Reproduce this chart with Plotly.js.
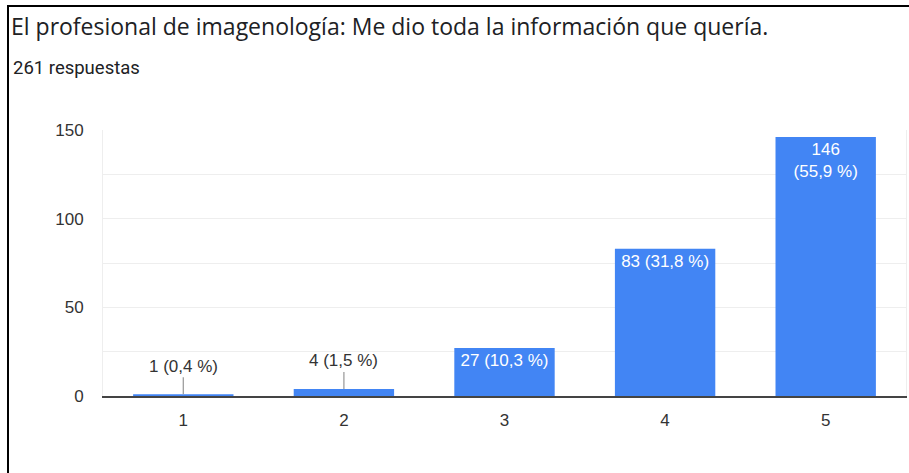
<!DOCTYPE html>
<html>
<head>
<meta charset="utf-8">
<script src="https://cdn.plot.ly/plotly-3.0.1.min.js"></script>
<style>
  html, body { margin: 0; padding: 0; background: #fff; }
  #wrap { position: relative; width: 909px; height: 473px; overflow: hidden; }
  #chart { position: absolute; left: 0; top: 0; width: 909px; height: 473px; }
  #frame { position: absolute; left: 7px; top: 5px; width: 910px; height: 480px;
           border-left: 2px solid #000; border-top: 2px solid #000; pointer-events: none; }
</style>
</head>
<body>
<div id="wrap">
  <div id="chart"></div>
  <div id="frame"></div>
</div>
<script>
const categories = ['1', '2', '3', '4', '5'];
const counts = [1, 4, 27, 83, 146];
const labels = ['1 (0,4 %)', '4 (1,5 %)', '27 (10,3 %)', '83 (31,8 %)', '146<br>(55,9 %)'];
const outsideLabel = [true, true, false, false, false];
const yTicks = [0, 50, 100, 150];
const titleText = 'El profesional de imagenología: Me dio toda la información que quería.';
const subtitleText = '261 respuestas';

const W = 909, H = 473;
const L = 103, R = 3, T = 130, B = 77;
const pw = W - L - R, ph = H - T - B;
const px = x => (x - L) / pw;
const py = y => (H - B - y) / ph;

const insideText = labels.map((t, i) => outsideLabel[i] ? '' : t);

const trace = {
  type: 'bar',
  x: categories,
  y: counts,
  marker: { color: '#4285f4' },
  text: insideText,
  textposition: 'inside',
  insidetextanchor: 'end',
  textangle: 0,
  insidetextfont: { family: 'Liberation Sans, Arial, sans-serif', size: 17, color: '#ffffff' },
  hoverinfo: 'none',
  cliponaxis: false
};

const annotations = [];
categories.forEach((c, i) => {
  if (outsideLabel[i]) {
    annotations.push({
      x: i, y: counts[i], xref: 'x', yref: 'y',
      text: labels[i], showarrow: true, arrowhead: 0, arrowwidth: 1.3,
      arrowcolor: '#9e9e9e', ax: 0, ay: -28,
      font: { family: 'Liberation Sans, Arial, sans-serif', size: 17, color: '#333333' }
    });
  }
});
annotations.push({
  xref: 'paper', yref: 'paper', x: px(11), y: py(68),
  xanchor: 'left', yanchor: 'middle', showarrow: false,
  text: subtitleText,
  font: { family: 'Roboto, sans-serif', size: 18.5, color: '#202124' }
});

const layout = {
  width: W, height: H,
  margin: { l: L, r: R, t: T, b: B, pad: 0 },
  paper_bgcolor: '#ffffff', plot_bgcolor: '#ffffff',
  showlegend: false,
  bargap: 0.375,
  title: {
    text: titleText,
    xref: 'container', yref: 'container',
    x: 11 / W, xanchor: 'left',
    y: 1 - 27 / H, yanchor: 'middle',
    font: { family: 'Open Sans, sans-serif', size: 23, color: '#202124' }
  },
  xaxis: {
    type: 'category',
    showgrid: false,
    showline: true, linecolor: '#444444', linewidth: 2,
    ticks: 'outside', ticklen: 8, tickcolor: 'rgba(0,0,0,0)',
    tickfont: { family: 'Liberation Sans, Arial, sans-serif', size: 17, color: '#333333' },
    fixedrange: true
  },
  yaxis: {
    range: [0, 150],
    tickvals: yTicks,
    showgrid: true, gridcolor: '#eeeeee', gridwidth: 1,
    minor: { dtick: 25, showgrid: true, gridcolor: '#eeeeee', gridwidth: 1 },
    zeroline: false,
    showline: true, mirror: true, linecolor: '#eeeeee', linewidth: 1,
    ticks: 'outside', ticklen: 15, tickcolor: 'rgba(0,0,0,0)',
    tickfont: { family: 'Liberation Sans, Arial, sans-serif', size: 17, color: '#333333' },
    fixedrange: true
  },
  annotations: annotations
};

Plotly.newPlot('chart', [trace], layout, { displayModeBar: false, staticPlot: true });
</script>
</body>
</html>
